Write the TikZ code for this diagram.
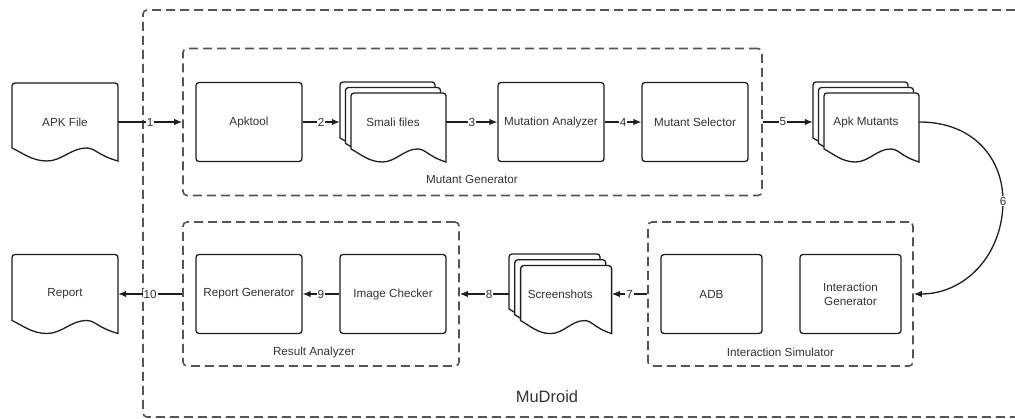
\documentclass[tikz,border=0pt]{standalone}
\usepackage{fontspec}
\setmainfont{Liberation Sans}
\usetikzlibrary{arrows.meta,calc}
\definecolor{ln}{HTML}{1E1E1E}
\definecolor{txt}{HTML}{333333}
\definecolor{dsh}{HTML}{555555}
\newcommand\docshape[4]{%
  \draw[docline] (#1,{#2+#4-13}) [rounded corners=3pt] -- (#1,#2) -- ({#1+#3},#2) [sharp corners] -- ({#1+#3},{#2+#4})
   .. controls ({#1+0.8*#3},{#2+#4-6}) and ({#1+0.79*#3},{#2+#4-13}) .. ({#1+0.7*#3},{#2+#4-13})
   .. controls ({#1+0.56*#3},{#2+#4-13}) and ({#1+0.47*#3},{#2+#4}) .. ({#1+0.33*#3},{#2+#4})
   .. controls ({#1+0.19*#3},{#2+#4}) and ({#1+0.1*#3},{#2+#4-8}) .. cycle;}
\newcommand\stackdoc[5]{%
  \docshape{#1}{#2}{#3}{#4}%
  \docshape{#1+#5}{#2+#5}{#3}{#4}%
  \docshape{#1+2*#5}{#2+2*#5}{#3}{#4}}
\begin{document}
\begin{tikzpicture}[x=1pt,y=-1pt,
  lbl/.style={font=\fontsize{11.7}{14}\selectfont, text=txt},
  box/.style={draw=ln, line width=1.3pt, rounded corners=3pt, fill=white, minimum width=106pt, minimum height=79pt, inner sep=0pt, align=center, lbl},
  container/.style={draw=dsh, dash pattern=on 9pt off 5pt, line width=1.6pt, rounded corners=4pt, inner sep=0pt},
  docline/.style={draw=ln, line width=1.3pt, fill=white},
  docn/.style={inner sep=0pt, lbl, align=center},
  arr/.style={draw=ln, line width=1.3pt, -{Latex[length=8pt,width=6.5pt]}},
  num/.style={lbl, fill=white, inner sep=1pt}]
\useasboundingbox (0,0) rectangle (1015,419);

% containers
\node[container, minimum width=890pt, minimum height=407pt] (mud) at (588,213.5) {};
\node[container, minimum width=579pt, minimum height=147pt] (mg) at (472.5,122) {};
\node[container, minimum width=276pt, minimum height=144pt] (ra) at (321,294) {};
\node[container, minimum width=265pt, minimum height=144pt] (is) at (780.5,294) {};
\node[lbl] (mgl) at (472,179) {Mutant Generator};
\node[lbl] (ral) at (314,352) {Result Analyzer};
\node[lbl] (isl) at (780.5,352) {Interaction Simulator};
\node[font=\fontsize{16.5}{20}\selectfont, text=txt] (mudl) at (547,397) {MuDroid};

% documents
\docshape{12}{83}{106}{78}
\node[docn, minimum width=106pt, minimum height=78pt] (apk) at (65,122) {APK File};
\docshape{12}{254.5}{106}{79}
\node[docn, minimum width=106pt, minimum height=79pt] (rep) at (65,294) {Report};
\stackdoc{340}{82}{95}{69}{5.5}
\node[docn, minimum width=106pt, minimum height=80pt] (smali) at (393,122) {Smali files};
\stackdoc{813}{82}{95}{69}{5.5}
\node[docn, minimum width=106pt, minimum height=80pt] (am) at (866,122) {Apk Mutants};
\stackdoc{509}{254}{91}{68}{5.8}
\node[docn, minimum width=102.6pt, minimum height=80pt] (ss) at (560.3,294) {Screenshots};

% process boxes
\node[box] (apkt) at (249,122) {Apktool};
\node[box] (ma) at (551,122) {Mutation Analyzer};
\node[box] (ms) at (695,122) {Mutant Selector};
\node[box] (rg) at (249,294) {Report Generator};
\node[box] (ic) at (393,294) {Image Checker};
\node[box, minimum width=101pt] (adb) at (711.5,294) {ADB};
\node[box, minimum width=101pt] (ig) at (850.5,294) {Interaction\\Generator};

% connectors
\draw[arr] (apk.east) -- node[num]{1} (mg.west);
\draw[arr] (apkt.east) -- node[num]{2} (smali.west);
\draw[arr] (smali.east) -- node[num]{3} (ma.west);
\draw[arr] (ma.east) -- node[num]{4} (ms.west);
\draw[arr] (mg.east) -- node[num, pos=0.4]{5} (am.west);
\coordinate (c6) at (1003,201);
\draw[arr] (am.east) .. controls (975,122) and (1003,160) .. (c6)
   .. controls (1003,255) and (965,294) .. (is.east);
\node[num] (n6) at (c6) {6};
\draw[arr] (is.west) -- node[num]{7} (ss.east);
\draw[arr] (ss.west) -- node[num, pos=0.4]{8} (ra.east);
\draw[arr] (ic.west) -- node[num]{9} (rg.east);
\draw[arr] (ra.west) -- node[num]{10} (rep.east);
\end{tikzpicture}
\end{document}
